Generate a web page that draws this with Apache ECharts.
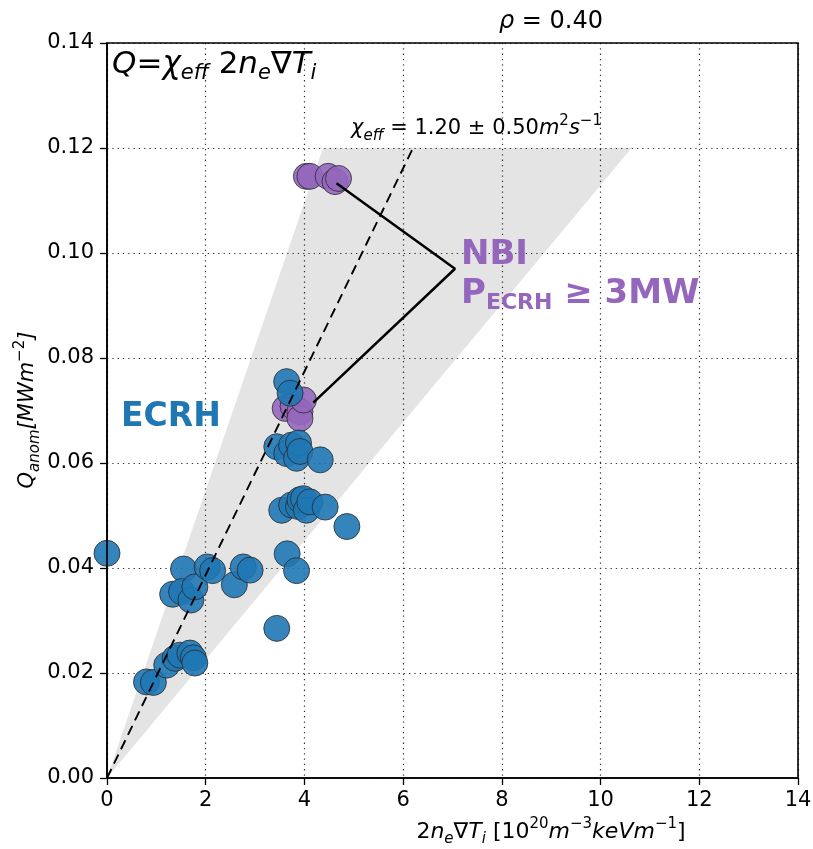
<!DOCTYPE html>
<html>
<head>
<meta charset="utf-8">
<script src="https://cdn.jsdelivr.net/npm/echarts@6/dist/echarts.min.js"></script>
<style>html,body{margin:0;padding:0;background:#fff}#c{width:813px;height:849px}</style>
</head>
<body>
<div id="c"></div>
<script>
// ---- data ----
const ecrhPoints = [
  [0.00,0.0428],[0.80,0.0183],[0.94,0.0182],[1.21,0.0215],[1.38,0.0228],[1.48,0.0234],
  [1.68,0.0238],[1.75,0.0229],[1.78,0.0219],
  [1.55,0.0398],[1.33,0.0350],[1.51,0.0355],[1.70,0.0339],[1.78,0.0364],[2.03,0.0402],
  [2.14,0.0395],[2.58,0.0368],[2.76,0.0402],[2.90,0.0396],[3.44,0.0285],
  [3.65,0.0427],[3.84,0.0395],[4.86,0.0479],
  [3.54,0.0510],[3.74,0.0520],[3.88,0.0517],[3.91,0.0530],[3.98,0.0532],[4.04,0.0510],
  [4.11,0.0526],[4.42,0.0516],
  [3.44,0.0631],[3.64,0.0618],[3.74,0.0634],[3.84,0.0609],[3.88,0.0638],[3.91,0.0622],
  [4.32,0.0606],
  [3.64,0.0755],[3.71,0.0733]
];
const nbiPoints = [
  [3.61,0.0704],[3.77,0.0708],[3.91,0.0698],[3.91,0.0685],[3.98,0.0720],
  [4.04,0.1146],[4.11,0.1146],[4.48,0.1146],[4.62,0.1136],[4.69,0.1142]
];
const annotationPath = [[4.65,0.1133],[7.05,0.0970],[4.18,0.0715]];
const chiEff = 1.20;
const chiErr = 0.50;
const gradToQ = 1/62;      // Q = chi * gradToQ * x
const bandTopQ = 0.12;
const xTicks = [0,2,4,6,8,10,12,14];
const yTicks = [0,0.02,0.04,0.06,0.08,0.10,0.12,0.14];

// derived geometry from the data
const fitLine = [[0,0],[bandTopQ/(chiEff*gradToQ), bandTopQ]];
const band = [
  [0,0],
  [bandTopQ/((chiEff+chiErr)*gradToQ), bandTopQ],
  [bandTopQ/((chiEff-chiErr)*gradToQ), bandTopQ]
];

const FONT = 'DejaVu Sans';
const chart = echarts.init(document.getElementById('c'), null, {renderer:'canvas'});

const gridLine = {show:true, lineStyle:{color:'#333', width:1.2, type:[1.3,4]}};

const option = {
  backgroundColor:'#fff',
  animation:false,
  grid:{left:107, right:15, top:43, bottom:71, containLabel:false, outerBoundsMode:'none'},
  xAxis:{
    type:'value', min:0, max:14, interval:2,
    axisLine:{show:true, onZero:false, lineStyle:{color:'#000', width:1.6}},
    axisTick:{show:true, length:7, lineStyle:{color:'#000', width:1.3}},
    axisLabel:{fontFamily:FONT, fontSize:21, color:'#000', margin:12},
    splitLine:gridLine
  },
  yAxis:{
    type:'value', min:0, max:0.14, interval:0.02,
    axisLine:{show:true, onZero:false, lineStyle:{color:'#000', width:1.6}},
    axisTick:{show:true, length:7, lineStyle:{color:'#000', width:1.3}},
    axisLabel:{fontFamily:FONT, fontSize:21, color:'#000', margin:13,
      formatter:v=>v.toFixed(2)},
    splitLine:gridLine
  },
  graphic:[
    {type:'rect', shape:{x:107,y:43,width:691,height:735}, style:{fill:'none', stroke:'#000', lineWidth:1.6}, z:100, silent:true},
    {type:'text', x:551, y:22, z:100, style:{
      text:'{i|ρ}{n| = 0.40}', align:'center', verticalAlign:'middle',
      rich:{
        i:{fontFamily:FONT, fontSize:24, fontStyle:'italic', fill:'#000'},
        n:{fontFamily:FONT, fontSize:24, fill:'#000'}
      }}},
    {type:'text', x:551, y:832, z:100, style:{
      text:'{n|2}{i|n}{s|e}{n|∇}{i|T}{s|i}{n| [10}{p|20}{i|m}{p|−3}{i|keVm}{p|−1}{n|]}',
      align:'center', verticalAlign:'middle',
      rich:{
        n:{fontFamily:FONT, fontSize:22, fill:'#000', lineHeight:30},
        i:{fontFamily:FONT, fontSize:22, fontStyle:'italic', fill:'#000', lineHeight:30},
        s:{fontFamily:FONT, fontSize:15, fontStyle:'italic', fill:'#000', verticalAlign:'bottom', lineHeight:18},
        p:{fontFamily:FONT, fontSize:15, fill:'#000', verticalAlign:'top', lineHeight:18}
      }}},
    {type:'text', x:28, y:410, rotation:Math.PI/2, z:100, style:{
      text:'{i|Q}{s|anom}{i|[MWm}{p|−2}{i|]}',
      align:'center', verticalAlign:'middle',
      rich:{
        i:{fontFamily:FONT, fontSize:21, fontStyle:'italic', fill:'#000', lineHeight:30},
        s:{fontFamily:FONT, fontSize:15, fontStyle:'italic', fill:'#000', verticalAlign:'bottom', lineHeight:18},
        p:{fontFamily:FONT, fontSize:15, fill:'#000', verticalAlign:'top', lineHeight:18}
      }}},
    {type:'text', left:112, top:49, z:100, style:{
      text:'{i|Q}{n|=}{i|χ}{s|eff}{n| 2}{i|n}{s|e}{n|∇}{i|T}{s|i}',
      rich:{
        i:{fontFamily:FONT, fontSize:31, fontStyle:'italic', fill:'#000', lineHeight:40},
        n:{fontFamily:FONT, fontSize:31, fill:'#000', lineHeight:40},
        s:{fontFamily:FONT, fontSize:21, fontStyle:'italic', fill:'#000', verticalAlign:'bottom', lineHeight:24}
      }}},
    {type:'text', left:351, top:114, z:100, style:{
      text:'{i|χ}{s|eff}{n| = 1.20 ± 0.50}{i|m}{p|2}{i|s}{p|−1}',
      rich:{
        i:{fontFamily:FONT, fontSize:21, fontStyle:'italic', fill:'#000', lineHeight:30},
        n:{fontFamily:FONT, fontSize:21, fill:'#000', lineHeight:30},
        s:{fontFamily:FONT, fontSize:15, fontStyle:'italic', fill:'#000', verticalAlign:'bottom', lineHeight:18},
        p:{fontFamily:FONT, fontSize:15, fill:'#000', verticalAlign:'top', lineHeight:18}
      }}},
    {type:'text', left:121, top:401, z:100, style:{
      text:'ECRH', fontFamily:FONT, fontSize:33, fontWeight:'bold', fill:'#1f77b4'}},
    {type:'text', left:461, top:238, z:100, style:{
      text:'NBI', fontFamily:FONT, fontSize:34, fontWeight:'bold', fill:'#9467bd'}},
    {type:'text', left:461, top:277, z:100, style:{
      text:'{b|P}{s|ECRH}{b| ≥ 3MW}',
      rich:{
        b:{fontFamily:FONT, fontSize:34, fontWeight:'bold', fill:'#9467bd', lineHeight:40},
        s:{fontFamily:FONT, fontSize:22, fontWeight:'bold', fill:'#9467bd', verticalAlign:'bottom', lineHeight:26}
      }}}
  ],
  series:[
    {
      type:'custom', z:1, silent:true,
      renderItem:function(params, api){
        const pts = band.map(p=>api.coord(p));
        return {type:'polygon', shape:{points:pts}, style:{fill:'rgba(0,0,0,0.105)'}};
      },
      data:[0]
    },
    {
      type:'scatter', z:3, data:nbiPoints, symbolSize:26,
      itemStyle:{color:'#9467bd', borderColor:'#2a2a2a', borderWidth:0.9, opacity:0.9}
    },
    {
      type:'scatter', z:4, data:ecrhPoints, symbolSize:26,
      itemStyle:{color:'#1f77b4', borderColor:'#2a2a2a', borderWidth:0.9, opacity:0.9}
    },
    {
      type:'line', z:6, data:fitLine, symbol:'none', silent:true,
      lineStyle:{color:'#000', width:1.9, type:[10,6]}
    },
    {
      type:'line', z:6, data:annotationPath, symbol:'none', silent:true,
      lineStyle:{color:'#000', width:2.5}
    }
  ]
};
chart.setOption(option);
</script>
</body>
</html>
